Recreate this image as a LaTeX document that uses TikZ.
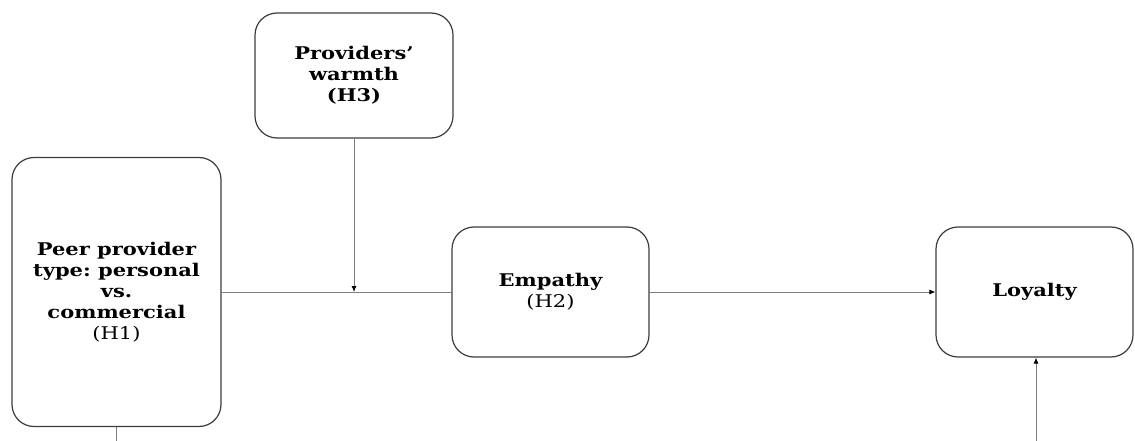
\documentclass[tikz,border=0pt]{standalone}
\usepackage{fontspec}
\usepackage{tikz}
\usetikzlibrary{arrows.meta}
\newfontfamily\boxfont[FakeStretch=1.2]{DejaVu Serif}
\frenchspacing
\definecolor{boxgray}{RGB}{60,60,60}
\definecolor{linegray}{RGB}{125,125,125}
\tikzstyle{construct}=[rectangle, draw=boxgray, line width=1.2pt, rounded corners=22pt, align=center, inner sep=0pt, font=\boxfont\fontsize{17.5}{21}\selectfont\bfseries]
\tikzstyle{link}=[draw=linegray, line width=0.8pt]
\tikzstyle{pointer}=[link, -{Latex[length=6pt,width=5pt,color=black]}]
\newcommand{\construct}{\node[construct]}

\begin{document}
\begin{tikzpicture}[x=1pt,y=-1pt]
	\useasboundingbox (0,0) rectangle (1135,441);
	%% The four constructs of the model; (H1)--(H3) mark the hypotheses.
	\construct[minimum width=209pt, minimum height=269pt] (peer) at (116.5,292) {Peer provider\\ type: personal\\ vs.\\ commercial\\ {\mdseries (H1)}};
	\construct[minimum width=198pt, minimum height=125pt] (warmth) at (354,75.5) {Providers’\\ warmth\\ (H3)};
	\construct[minimum width=197pt, minimum height=130pt] (empathy) at (550.5,292) {Empathy\\ {\mdseries (H2)}};
	\construct[minimum width=197pt, minimum height=130pt] (loyalty) at (1034.5,292) {Loyalty};
	%% Where the moderator meets the main path, and the two loose ends at the bottom.
	\coordinate (moderate) at (warmth.south |- empathy.west);
	\coordinate (peerout) at (116.5,441);
	\coordinate (loyin) at (1036,441);
	\path
		(peer) edge[link] (empathy)
		(warmth) edge[pointer] (moderate)
		(empathy) edge[pointer] (loyalty)
		(peer) edge[link] (peerout)
		(loyin) edge[pointer] (loyin |- loyalty.south)
	;
\end{tikzpicture}
\end{document}
